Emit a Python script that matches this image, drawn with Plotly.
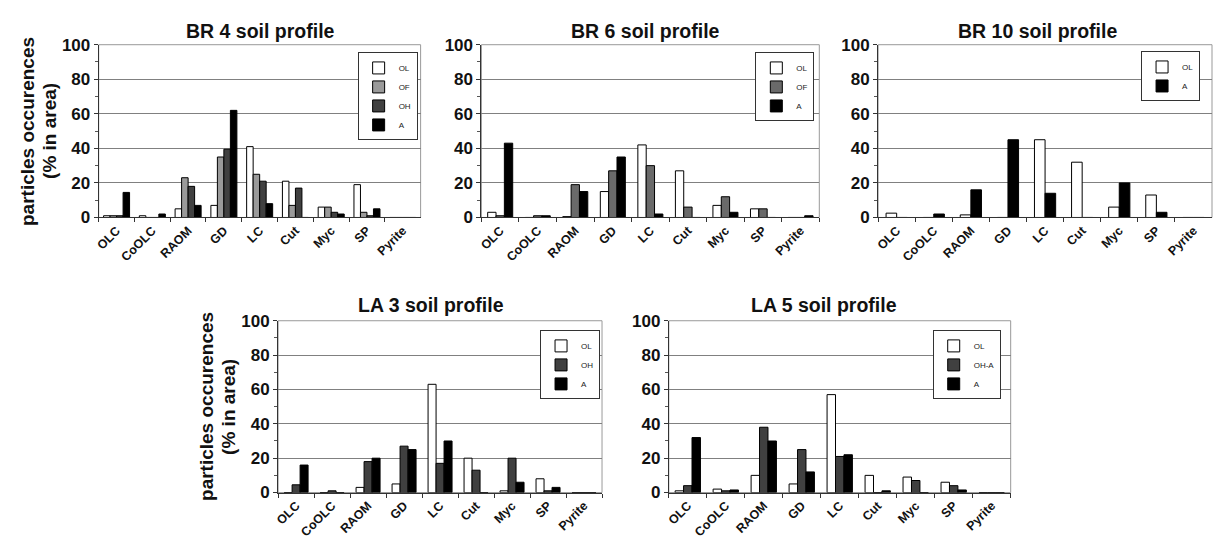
import plotly.graph_objects as go

# ---------------- data ----------------
categories = ["OLC", "CoOLC", "RAOM", "GD", "LC", "Cut", "Myc", "SP", "Pyrite"]

br4_OL = [1, 1, 5, 7, 41, 21, 6, 19, 0]
br4_OF = [1, 0, 23, 35, 25, 7, 6, 3, 0]
br4_OH = [1, 0, 18, 39.5, 21, 17, 3, 1, 0]
br4_A = [14.5, 2, 7, 62, 8, 0, 2, 5, 0]

br6_OL = [3, 0, 0.5, 15, 42, 27, 7, 5, 0]
br6_OF = [1, 1, 19, 27, 30, 6, 12, 5, 0]
br6_A = [43, 1, 15, 35, 2, 0, 3, 0, 1]

br10_OL = [2.5, 0, 1.5, 0, 45, 32, 6, 13, 0]
br10_A = [0, 2, 16, 45, 14, 0, 20, 3, 0]

la3_OL = [0, 0, 3, 5, 63, 20, 1, 8, 0]
la3_OH = [4.5, 1, 18, 27, 17, 13, 20, 1, 0]
la3_A = [16, 0, 20, 25, 30, 0, 6, 3, 0]

la5_OL = [1, 2, 10, 5, 57, 10, 9, 6, 0]
la5_OHA = [4, 1, 38, 25, 21, 0, 7, 4, 0]
la5_A = [32, 1.5, 30, 12, 22, 1, 0, 1.5, 0]

y_ticks = [0, 20, 40, 60, 80, 100]

# ---------------- styling / layout ----------------
FW, FH = 1215, 545
FONT = "Liberation Sans, Arial, sans-serif"
WHITE, LIGHT, MID, DARK, BLACK = "#ffffff", "#9a9a9a", "#6a6a6a", "#404040", "#000000"


def px(x):
    return x / FW


def py(y):
    return 1 - y / FH


panels = [
    dict(title="BR 4 soil profile", tx=257, ty=23,
         series=[("OL", br4_OL, WHITE), ("OF", br4_OF, LIGHT), ("OH", br4_OH, DARK), ("A", br4_A, BLACK)],
         dx=(95, 418), dy=(37, 216), leg=(415, 45), ytitle=True),
    dict(title="BR 6 soil profile", tx=644, ty=23,
         series=[("OL", br6_OL, WHITE), ("OF", br6_OF, MID), ("A", br6_A, BLACK)],
         dx=(479, 818), dy=(37, 216), leg=(813, 45), ytitle=False),
    dict(title="BR 10 soil profile", tx=1037, ty=23,
         series=[("OL", br10_OL, WHITE), ("A", br10_A, BLACK)],
         dx=(877, 1212), dy=(37, 216), leg=(1200, 44), ytitle=False),
    dict(title="LA 3 soil profile", tx=428, ty=307,
         series=[("OL", la3_OL, WHITE), ("OH", la3_OH, DARK), ("A", la3_A, BLACK)],
         dx=(275, 600), dy=(323, 501), leg=(598, 333), ytitle=True),
    dict(title="LA 5 soil profile", tx=823, ty=307,
         series=[("OL", la5_OL, WHITE), ("OH-A", la5_OHA, DARK), ("A", la5_A, BLACK)],
         dx=(667, 1010), dy=(323, 501), leg=(1000, 333), ytitle=False),
]

fig = go.Figure()
annotations = []
shapes = []
layout = dict(
    width=FW, height=FH,
    margin=dict(l=0, r=0, t=0, b=0),
    paper_bgcolor="white", plot_bgcolor="white",
    barmode="overlay", hovermode=False,
    font=dict(family=FONT, color="black"),
)

for i, p in enumerate(panels, start=1):
    xa = "x" if i == 1 else f"x{i}"
    ya = "y" if i == 1 else f"y{i}"
    xk = "xaxis" if i == 1 else f"xaxis{i}"
    yk = "yaxis" if i == 1 else f"yaxis{i}"
    lk = "legend" if i == 1 else f"legend{i}"
    n = len(p["series"])
    w = 1.0 / (n + 1.5)
    for j, (name, vals, col) in enumerate(p["series"]):
        fig.add_trace(go.Bar(
            x=categories, y=vals, name=name, xaxis=xa, yaxis=ya, legend=lk,
            width=w, offset=-n * w / 2 + j * w,
            marker=dict(color=col, line=dict(color="black", width=1)),
        ))
    layout[xk] = dict(
        domain=[px(p["dx"][0]), px(p["dx"][1])], anchor=ya, type="category",
        range=[-0.5, len(categories) - 0.5], tickson="boundaries",
        ticks="outside", ticklen=4, tickcolor="#333", tickangle=-45,
        tickfont=dict(family=FONT, size=12.5, weight="bold", color="#111"),
        showline=True, linecolor="#333", linewidth=1, showgrid=False, fixedrange=True,
    )
    layout[yk] = dict(
        domain=[py(p["dy"][1]), py(p["dy"][0])], anchor=xa,
        range=[0, 100], tickvals=y_ticks, showgrid=True, gridcolor="#808080", gridwidth=1.2,
        zeroline=False, showline=True, linecolor="#333", linewidth=1,
        ticks="outside", ticklen=4, tickcolor="#333",
        minor=dict(dtick=10, ticks="outside", ticklen=3, tickcolor="#555", showgrid=False),
        tickfont=dict(family=FONT, size=17, weight="bold", color="#111"), fixedrange=True,
    )
    layout[lk] = dict(
        x=px(p["leg"][0]), y=py(p["leg"][1]), xanchor="right", yanchor="top",
        xref="paper", yref="paper",
        bgcolor="white", bordercolor="#333", borderwidth=1,
        font=dict(family=FONT, size=8, color="#222"), itemwidth=30, tracegroupgap=0,
        traceorder="normal",
    )
    shapes.append(dict(type="rect", xref=f"{xa} domain", yref=f"{ya} domain",
                       x0=0, x1=1, y0=0, y1=1, line=dict(color="#999", width=1), layer="below"))
    annotations.append(dict(
        text=p["title"], x=px(p["tx"]), y=py(p["ty"]), xref="paper", yref="paper",
        xanchor="center", yanchor="middle", showarrow=False,
        font=dict(family=FONT, size=19.5, weight="bold", color="#111"),
    ))
    if p["ytitle"]:
        cy = (p["dy"][0] + p["dy"][1]) / 2
        ax = p["dx"][0]
        for off, txt in ((72, "particles occurences"), (50, "(% in area)")):
            annotations.append(dict(
                text=txt, x=px(ax - off), y=py(cy), xref="paper", yref="paper",
                xanchor="center", yanchor="middle", showarrow=False, textangle=-90,
                font=dict(family=FONT, size=19, weight="bold", color="#111"),
            ))

layout["annotations"] = annotations
layout["shapes"] = shapes
fig.update_layout(**layout)
# page without the default body margin so the 1215x545 figure fills the window exactly
fig.write_html(
    "out.html",
    config={"displayModeBar": False},
    post_script="document.body.style.margin='0';document.body.style.overflow='hidden';"
                "document.documentElement.style.overflow='hidden';",
)
